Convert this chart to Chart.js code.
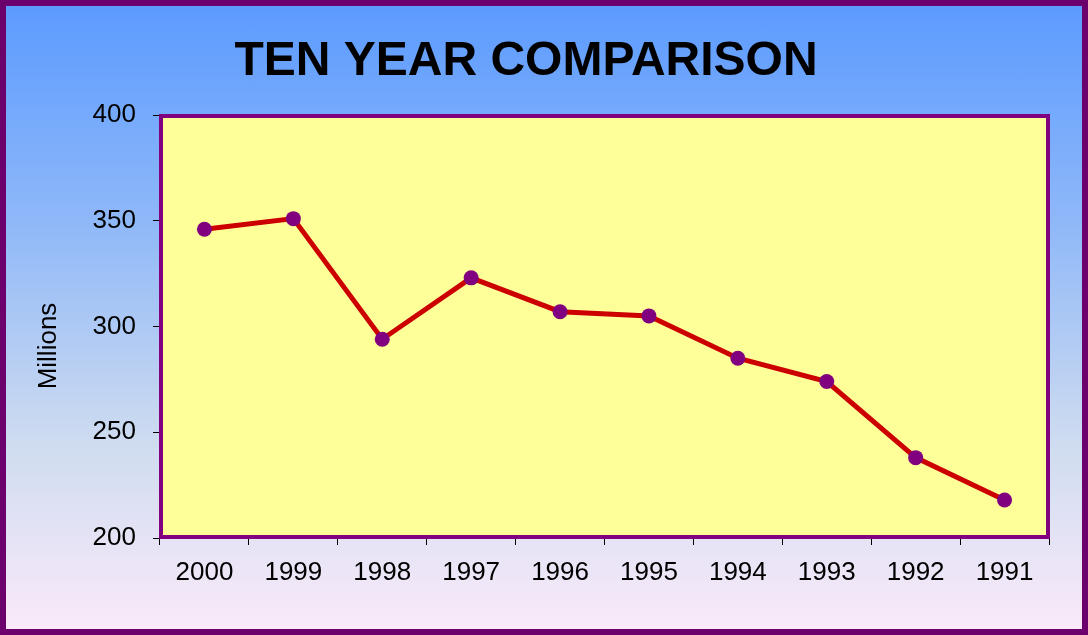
<!DOCTYPE html>
<html lang="en">
<head>
    <meta charset="UTF-8">
    <title>Ten Year Comparison</title>
    <script src="https://cdn.jsdelivr.net/npm/chart.js"></script>
    <style>
        html, body { margin: 0; padding: 0; }
        body {
            width: 1088px;
            height: 635px;
            overflow: hidden;
            background: linear-gradient(to bottom, #5a9aff 0%, #8fb8f8 35%, #cfdcf0 70%, #fbeafa 100%);
            position: relative;
        }
        .frame {
            position: absolute;
            left: 0; top: 0;
            width: 1088px; height: 635px;
            box-sizing: border-box;
            border: 6px solid #6c006c;
            pointer-events: none;
            z-index: 2;
        }
        .box {
            position: absolute;
            left: 0; top: 0;
            width: 1088px; height: 635px;
        }
    </style>
</head>
<body>
    <div class="box"><canvas id="lineChart"></canvas></div>
    <div class="frame"></div>
    <script>
        const years = ['2000', '1999', '1998', '1997', '1996', '1995', '1994', '1993', '1992', '1991'];
        const millions = [346, 351, 294, 323, 307, 305, 285, 274, 238, 218];
        const yTicks = [200, 250, 300, 350, 400];

        // fondo amarillo y borde morado del area de trazado
        const plotBox = {
            id: 'plotBox',
            beforeDatasetsDraw(chart) {
                const { ctx, chartArea: a } = chart;
                ctx.save();
                ctx.fillStyle = '#ffff99';
                ctx.fillRect(a.left, a.top, a.right - a.left, a.bottom - a.top);
                ctx.strokeStyle = '#800080';
                ctx.lineWidth = 4;
                ctx.strokeRect(a.left + 1, a.top + 1, a.right - a.left - 2, a.bottom - a.top - 2);
                ctx.restore();
            },
            afterDraw(chart) {
                const { ctx } = chart;
                ctx.save();
                ctx.fillStyle = '#000';
                ctx.textAlign = 'center';
                ctx.textBaseline = 'alphabetic';
                ctx.font = 'bold 48px "Liberation Sans", Arial, sans-serif';
                ctx.fillText('TEN YEAR COMPARISON', 526, 75);
                ctx.translate(49, 346);
                ctx.rotate(-Math.PI / 2);
                ctx.textBaseline = 'middle';
                ctx.font = '26px "Liberation Sans", Arial, sans-serif';
                ctx.fillText('Millions', 0, 0);
                ctx.restore();
            }
        };

        new Chart(document.getElementById('lineChart'), {
            type: 'line',
            data: {
                labels: years,
                datasets: [{
                    label: 'Millions',
                    data: millions,
                    borderColor: '#cc0000',
                    borderWidth: 5,
                    pointBackgroundColor: '#800080',
                    pointBorderColor: '#800080',
                    pointRadius: 7.5,
                    pointBorderWidth: 0,
                    tension: 0,
                    fill: false
                }]
            },
            options: {
                responsive: true,
                maintainAspectRatio: false,
                animation: false,
                layout: { padding: { top: 115, right: 39, bottom: 37, left: 0 } },
                plugins: {
                    legend: { display: false },
                    tooltip: { enabled: false }
                },
                scales: {
                    x: {
                        offset: true,
                        afterFit(scale) { scale.height = 60; },
                        grid: {
                            offset: true,
                            drawOnChartArea: false,
                            drawTicks: true,
                            tickLength: 7,
                            color: '#000'
                        },
                        border: { display: false },
                        ticks: {
                            color: '#000',
                            padding: 12,
                            maxRotation: 0,
                            font: { family: '"Liberation Sans", Arial, sans-serif', size: 26 }
                        }
                    },
                    y: {
                        min: 200,
                        max: 400,
                        afterFit(scale) { scale.width = 160; },
                        afterBuildTicks(scale) { scale.ticks = yTicks.map(v => ({ value: v })); },
                        grid: {
                            drawOnChartArea: false,
                            drawTicks: true,
                            tickLength: 7,
                            color: '#000'
                        },
                        border: { display: false },
                        ticks: {
                            color: '#000',
                            padding: 17,
                            font: { family: '"Liberation Sans", Arial, sans-serif', size: 26 }
                        }
                    }
                }
            },
            plugins: [plotBox]
        });
    </script>
</body>
</html>
